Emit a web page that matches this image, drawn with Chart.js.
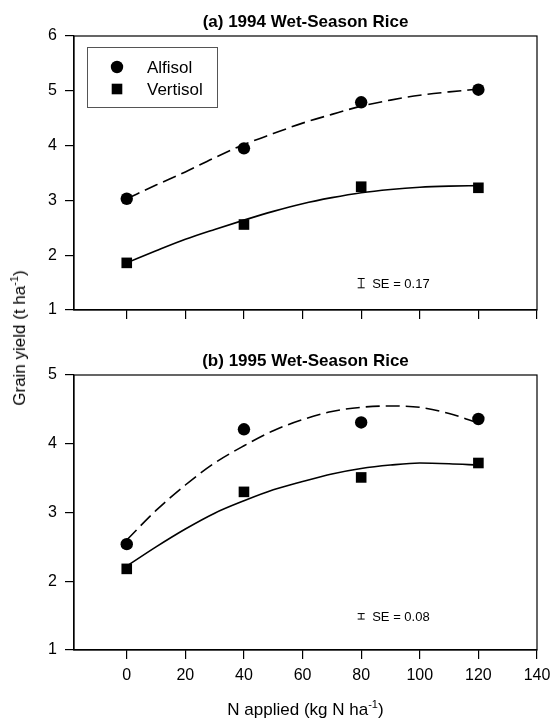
<!DOCTYPE html>
<html>
<head>
<meta charset="utf-8">
<script src="https://cdn.jsdelivr.net/npm/chart.js@4.4.0/dist/chart.umd.min.js"></script>
<style>
    html, body { margin: 0; padding: 0; background: #fff; }
    body {
        width: 553px; height: 723px; position: relative; overflow: hidden;
        font-family: "Liberation Sans", Arial, sans-serif; color: #000;
    }
    .panel { position: absolute; left: 0; }
    #panelA { top: 0; }
    #panelB { top: 335px; }
    .axis-title { position: absolute; font-size: 17px; line-height: 20px; white-space: nowrap; }
    #yTitle { left: 20px; top: 338px; transform: translate(-50%, -50%) rotate(-90deg); }
    #xTitle { left: 74px; width: 463px; top: 700px; text-align: center; }
    sup { font-size: 11px; vertical-align: 7px; line-height: 0; }
</style>
</head>
<body>
<div class="panel" id="panelA"><canvas id="chartA" width="553" height="335"></canvas></div>
<div class="panel" id="panelB"><canvas id="chartB" width="553" height="388"></canvas></div>
<div class="axis-title" id="yTitle">Grain yield (t ha<sup>-1</sup>)</div>
<div class="axis-title" id="xTitle">N applied (kg N ha<sup>-1</sup>)</div>

<script>
// N rates (kg N/ha) and measured grain yields (t/ha)
const nRates = [0, 40, 80, 120];
const alfisol1994 = [3.03, 3.95, 4.79, 5.02];
const vertisol1994 = [1.86, 2.56, 3.25, 3.23];
const alfisol1995 = [2.54, 4.21, 4.31, 4.36];
const vertisol1995 = [2.18, 3.30, 3.51, 3.72];

// fitted response curves, every 10 kg N
const fitRates = [0, 10, 20, 30, 40, 50, 60, 70, 80, 90, 100, 110, 120];
const alfisolFit1994 = [3.03, 3.28, 3.52, 3.78, 4.02, 4.22, 4.41, 4.57, 4.72, 4.83, 4.92, 4.98, 5.03];
const vertisolFit1994 = [1.86, 2.08, 2.29, 2.47, 2.64, 2.80, 2.94, 3.05, 3.14, 3.20, 3.24, 3.26, 3.27];
const alfisolFit1995 = [2.60, 3.03, 3.40, 3.72, 3.97, 4.19, 4.35, 4.47, 4.53, 4.55, 4.53, 4.44, 4.30];
const vertisolFit1995 = [2.22, 2.50, 2.76, 2.99, 3.17, 3.33, 3.45, 3.56, 3.64, 3.69, 3.72, 3.71, 3.69];

// standard error bars: [N rate, low, high]
const seBar1994 = [80, 1.405, 1.575];
const seBar1995 = [80, 1.45, 1.53];
const seLabels = ['SE = 0.17', 'SE = 0.08'];

// axis ticks
const xTicks = { min: -18, max: 140, step: 20 };
const yTicks1994 = { min: 1, max: 6, step: 1 };
const yTicks1995 = { min: 1, max: 5, step: 1 };

const FONT = '"Liberation Sans", Arial, sans-serif';

const toPoints = (xs, ys) => xs.map((x, i) => ({ x, y: ys[i] }));

// Box around the plot area (top and right edges)
const frame = {
    id: 'frame',
    afterDraw(chart) {
        const { ctx, chartArea: a } = chart;
        ctx.save();
        ctx.strokeStyle = '#000';
        ctx.lineWidth = 1.2;
        ctx.strokeRect(a.left, a.top, a.right - a.left, a.bottom - a.top);
        ctx.restore();
    }
};

// Legend drawn inside the plot, upper left
const insetLegend = {
    id: 'insetLegend',
    afterDraw(chart, args, opts) {
        if (!opts.display) return;
        const { ctx, chartArea } = chart;
        const x = chartArea.left + 13, y = chartArea.top + 11;
        ctx.save();
        ctx.strokeStyle = '#555';
        ctx.lineWidth = 1;
        ctx.strokeRect(x + 0.5, y + 0.5, 130, 60);
        ctx.font = '17px ' + FONT;
        ctx.textBaseline = 'middle';
        ctx.fillStyle = '#000';
        chart.data.datasets.slice(0, 2).forEach((ds, i) => {
            const cy = y + 20 + i * 22;
            Chart.helpers.drawPoint(ctx, { pointStyle: ds.pointStyle, radius: ds.pointRadius, borderWidth: 0 }, x + 30, cy);
            ctx.fillText(ds.label, x + 60, cy + 1);
        });
        ctx.restore();
    }
};

// "SE = ..." text next to the error bar
const seLabel = {
    id: 'seLabel',
    afterDraw(chart, args, opts) {
        if (!opts.text) return;
        const { ctx, scales } = chart;
        const px = scales.x.getPixelForValue(opts.bar[0]) + 11;
        const py = scales.y.getPixelForValue((opts.bar[1] + opts.bar[2]) / 2);
        ctx.save();
        ctx.font = '13px ' + FONT;
        ctx.fillStyle = '#000';
        ctx.textBaseline = 'middle';
        ctx.fillText(opts.text, px, py + 1);
        ctx.restore();
    }
};

function makePanel(canvasId, o) {
    const axisLine = { display: true, color: '#000', width: 1.2 };
    const gridTicks = { drawOnChartArea: false, drawTicks: true, tickLength: 9, color: '#000', lineWidth: 1.2 };

    return new Chart(document.getElementById(canvasId), {
        type: 'scatter',
        data: {
            datasets: [
                {
                    label: 'Alfisol', data: toPoints(nRates, o.alfisol),
                    pointStyle: 'circle', pointRadius: 6.2, backgroundColor: '#000', borderWidth: 0, showLine: false
                },
                {
                    label: 'Vertisol', data: toPoints(nRates, o.vertisol),
                    pointStyle: 'rect', pointRadius: 7.5, backgroundColor: '#000', borderWidth: 0, showLine: false
                },
                {
                    label: 'Alfisol fit', data: toPoints(fitRates, o.alfisolFit),
                    showLine: true, pointRadius: 0, borderColor: '#000', borderWidth: 1.6,
                    borderDash: [14, 6], cubicInterpolationMode: 'monotone'
                },
                {
                    label: 'Vertisol fit', data: toPoints(fitRates, o.vertisolFit),
                    showLine: true, pointRadius: 0, borderColor: '#000', borderWidth: 1.6,
                    cubicInterpolationMode: 'monotone'
                },
                {
                    label: 'SE', data: [{ x: o.se[0], y: o.se[1] }, { x: o.se[0], y: o.se[2] }],
                    showLine: true, borderColor: '#000', borderWidth: 1,
                    pointStyle: 'line', pointRadius: 3.5, pointBorderColor: '#000', pointBorderWidth: 1
                }
            ]
        },
        options: {
            responsive: false,
            animation: false,
            layout: { padding: { left: 0, right: 16, top: 0, bottom: 0 } },
            plugins: {
                legend: { display: false },
                tooltip: { enabled: false },
                title: {
                    display: true, text: o.title, fullSize: false, color: '#000',
                    font: { family: FONT, size: 17, weight: 'bold' },
                    padding: o.titlePadding
                },
                insetLegend: { display: o.legend },
                seLabel: { text: o.seText, bar: o.se }
            },
            scales: {
                x: {
                    type: 'linear', min: xTicks.min, max: xTicks.max,
                    ticks: {
                        stepSize: xTicks.step, includeBounds: false, display: o.xLabels,
                        color: '#000', font: { family: FONT, size: 16 }, padding: 7, maxRotation: 0
                    },
                    grid: gridTicks,
                    border: axisLine,
                    afterFit(scale) {
                        scale.height = o.xHeight;
                        // keep the plot width the same in both panels
                        scale.paddingLeft = 0;
                        scale.paddingRight = 0;
                    }
                },
                y: {
                    type: 'linear', min: o.yTicks.min, max: o.yTicks.max,
                    ticks: { stepSize: o.yTicks.step, color: '#000', font: { family: FONT, size: 16 }, padding: 8 },
                    grid: gridTicks,
                    border: axisLine,
                    afterFit(scale) {
                        scale.width = 74;
                        scale.paddingTop = 0;
                        scale.paddingBottom = 0;
                    }
                }
            }
        },
        plugins: [frame, insetLegend, seLabel]
    });
}

makePanel('chartA', {
    title: '(a) 1994 Wet-Season Rice',
    titlePadding: { top: 12.6, bottom: 3 },
    alfisol: alfisol1994, vertisol: vertisol1994,
    alfisolFit: alfisolFit1994, vertisolFit: vertisolFit1994,
    se: seBar1994, seText: seLabels[0],
    yTicks: yTicks1994, xLabels: false, xHeight: 25, legend: true
});

makePanel('chartB', {
    title: '(b) 1995 Wet-Season Rice',
    titlePadding: { top: 16.6, bottom: 3 },
    alfisol: alfisol1995, vertisol: vertisol1995,
    alfisolFit: alfisolFit1995, vertisolFit: vertisolFit1995,
    se: seBar1995, seText: seLabels[1],
    yTicks: yTicks1995, xLabels: true, xHeight: 73, legend: false
});
</script>
</body>
</html>
